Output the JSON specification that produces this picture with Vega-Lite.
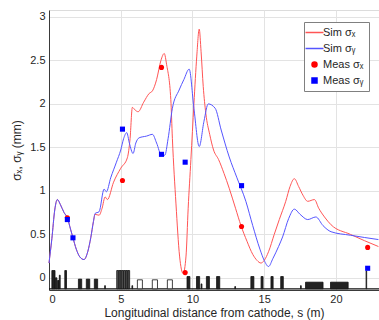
{
  "$schema": "https://vega.github.io/schema/vega-lite/v6.json",
  "width": 330,
  "height": 280,
  "autosize": {"type": "none"},
  "padding": {"left": 49, "top": 10, "right": 0, "bottom": 30},
  "background": "white",
  "config": {
    "font": "Liberation Sans",
    "view": {"stroke": "#dcdcdc"},
    "axis": {
      "gridColor": "#e3e3e3",
      "domainColor": "#3a3a3a",
      "labelColor": "#262626",
      "titleColor": "#262626",
      "labelFontSize": 11,
      "titleFontSize": 12,
      "titleFontWeight": "normal",
      "ticks": false
    }
  },
  "datasets": {
    "sim": [
      {"s": 0, "v": 0.17, "series": "Sim σₓ"}, {"s": 0.2, "v": 0.45, "series": "Sim σₓ"}, {"s": 0.4, "v": 0.78, "series": "Sim σₓ"}, {"s": 0.58, "v": 0.9, "series": "Sim σₓ"}, {"s": 0.8, "v": 0.84, "series": "Sim σₓ"}, {"s": 1.05, "v": 0.75, "series": "Sim σₓ"}, {"s": 1.28, "v": 0.69, "series": "Sim σₓ"}, {"s": 1.5, "v": 0.56, "series": "Sim σₓ"}, {"s": 1.67, "v": 0.46, "series": "Sim σₓ"}, {"s": 1.9, "v": 0.33, "series": "Sim σₓ"}, {"s": 2.15, "v": 0.24, "series": "Sim σₓ"}, {"s": 2.44, "v": 0.21, "series": "Sim σₓ"}, {"s": 2.7, "v": 0.3, "series": "Sim σₓ"}, {"s": 2.91, "v": 0.46, "series": "Sim σₓ"}, {"s": 3.1, "v": 0.65, "series": "Sim σₓ"}, {"s": 3.21, "v": 0.73, "series": "Sim σₓ"},
      {"s": 3.49, "v": 0.72, "series": "Sim σₓ"}, {"s": 3.7, "v": 0.8, "series": "Sim σₓ"}, {"s": 3.91, "v": 0.93, "series": "Sim σₓ"}, {"s": 4.07, "v": 0.9, "series": "Sim σₓ"}, {"s": 4.5, "v": 1.1, "series": "Sim σₓ"}, {"s": 5.0, "v": 1.26, "series": "Sim σₓ"}, {"s": 5.46, "v": 1.38, "series": "Sim σₓ"}, {"s": 5.65, "v": 1.6, "series": "Sim σₓ"}, {"s": 5.81, "v": 1.96, "series": "Sim σₓ"}, {"s": 6.0, "v": 1.93, "series": "Sim σₓ"}, {"s": 6.21, "v": 1.91, "series": "Sim σₓ"}, {"s": 6.6, "v": 2.02, "series": "Sim σₓ"}, {"s": 6.98, "v": 2.12, "series": "Sim σₓ"}, {"s": 7.21, "v": 2.15, "series": "Sim σₓ"}, {"s": 7.5, "v": 2.28, "series": "Sim σₓ"}, {"s": 7.8, "v": 2.5, "series": "Sim σₓ"}, {"s": 8.03, "v": 2.58, "series": "Sim σₓ"}, {"s": 8.2, "v": 2.45, "series": "Sim σₓ"}, {"s": 8.49, "v": 2.05, "series": "Sim σₓ"}, {"s": 8.6, "v": 1.6, "series": "Sim σₓ"}, {"s": 8.85, "v": 0.85, "series": "Sim σₓ"}, {"s": 9.1, "v": 0.25, "series": "Sim σₓ"}, {"s": 9.35, "v": 0.05, "series": "Sim σₓ"}, {"s": 9.55, "v": 0.25, "series": "Sim σₓ"}, {"s": 9.7, "v": 0.8, "series": "Sim σₓ"}, {"s": 9.89, "v": 1.36, "series": "Sim σₓ"}, {"s": 10.1, "v": 2.0, "series": "Sim σₓ"}, {"s": 10.3, "v": 2.55, "series": "Sim σₓ"}, {"s": 10.47, "v": 2.86, "series": "Sim σₓ"}, {"s": 10.6, "v": 2.6, "series": "Sim σₓ"}, {"s": 10.75, "v": 2.2, "series": "Sim σₓ"}, {"s": 10.93, "v": 1.89, "series": "Sim σₓ"}, {"s": 11.2, "v": 1.65, "series": "Sim σₓ"}, {"s": 11.47, "v": 1.47, "series": "Sim σₓ"}, {"s": 11.82, "v": 1.36, "series": "Sim σₓ"}, {"s": 12.2, "v": 1.2, "series": "Sim σₓ"}, {"s": 12.56, "v": 1.03, "series": "Sim σₓ"}, {"s": 13.0, "v": 0.8, "series": "Sim σₓ"}, {"s": 13.38, "v": 0.6, "series": "Sim σₓ"}, {"s": 13.8, "v": 0.42, "series": "Sim σₓ"}, {"s": 14.2, "v": 0.27, "series": "Sim σₓ"}, {"s": 14.5, "v": 0.2, "series": "Sim σₓ"}, {"s": 14.77, "v": 0.17, "series": "Sim σₓ"}, {"s": 15.0, "v": 0.2, "series": "Sim σₓ"}, {"s": 15.3, "v": 0.3, "series": "Sim σₓ"}, {"s": 15.7, "v": 0.5, "series": "Sim σₓ"}, {"s": 16.05, "v": 0.67, "series": "Sim σₓ"}, {"s": 16.5, "v": 0.88, "series": "Sim σₓ"}, {"s": 16.8, "v": 1.05, "series": "Sim σₓ"}, {"s": 17.1, "v": 1.14, "series": "Sim σₓ"}, {"s": 17.4, "v": 1.05, "series": "Sim σₓ"}, {"s": 17.7, "v": 0.95, "series": "Sim σₓ"}, {"s": 18.03, "v": 0.88, "series": "Sim σₓ"}, {"s": 18.5, "v": 0.9, "series": "Sim σₓ"}, {"s": 18.8, "v": 0.8, "series": "Sim σₓ"}, {"s": 19.2, "v": 0.7, "series": "Sim σₓ"}, {"s": 19.66, "v": 0.61, "series": "Sim σₓ"}, {"s": 21.0, "v": 0.5, "series": "Sim σₓ"}, {"s": 22.96, "v": 0.36, "series": "Sim σₓ"},
      {"s": 0, "v": 0.17, "series": "Sim σᵧ"}, {"s": 0.2, "v": 0.45, "series": "Sim σᵧ"}, {"s": 0.4, "v": 0.78, "series": "Sim σᵧ"}, {"s": 0.58, "v": 0.9, "series": "Sim σᵧ"}, {"s": 0.8, "v": 0.84, "series": "Sim σᵧ"}, {"s": 1.05, "v": 0.75, "series": "Sim σᵧ"}, {"s": 1.28, "v": 0.69, "series": "Sim σᵧ"}, {"s": 1.5, "v": 0.56, "series": "Sim σᵧ"}, {"s": 1.67, "v": 0.46, "series": "Sim σᵧ"}, {"s": 1.9, "v": 0.33, "series": "Sim σᵧ"}, {"s": 2.15, "v": 0.24, "series": "Sim σᵧ"}, {"s": 2.44, "v": 0.21, "series": "Sim σᵧ"}, {"s": 2.7, "v": 0.3, "series": "Sim σᵧ"}, {"s": 2.91, "v": 0.46, "series": "Sim σᵧ"}, {"s": 3.1, "v": 0.65, "series": "Sim σᵧ"}, {"s": 3.21, "v": 0.74, "series": "Sim σᵧ"},
      {"s": 3.49, "v": 0.76, "series": "Sim σᵧ"}, {"s": 3.84, "v": 1.02, "series": "Sim σᵧ"}, {"s": 4.0, "v": 0.99, "series": "Sim σᵧ"}, {"s": 4.3, "v": 1.15, "series": "Sim σᵧ"}, {"s": 4.7, "v": 1.33, "series": "Sim σᵧ"}, {"s": 5.0, "v": 1.47, "series": "Sim σᵧ"}, {"s": 5.2, "v": 1.6, "series": "Sim σᵧ"}, {"s": 5.42, "v": 1.67, "series": "Sim σᵧ"}, {"s": 5.6, "v": 1.55, "series": "Sim σᵧ"}, {"s": 5.86, "v": 1.43, "series": "Sim σᵧ"}, {"s": 6.05, "v": 1.55, "series": "Sim σᵧ"}, {"s": 6.28, "v": 1.61, "series": "Sim σᵧ"}, {"s": 6.8, "v": 1.63, "series": "Sim σᵧ"}, {"s": 7.21, "v": 1.65, "series": "Sim σᵧ"}, {"s": 7.5, "v": 1.55, "series": "Sim σᵧ"}, {"s": 7.84, "v": 1.41, "series": "Sim σᵧ"}, {"s": 8.07, "v": 1.41, "series": "Sim σᵧ"}, {"s": 8.3, "v": 1.6, "series": "Sim σᵧ"}, {"s": 8.6, "v": 1.95, "series": "Sim σᵧ"}, {"s": 9.07, "v": 2.16, "series": "Sim σᵧ"}, {"s": 9.4, "v": 2.28, "series": "Sim σᵧ"}, {"s": 9.77, "v": 2.4, "series": "Sim σᵧ"}, {"s": 10.1, "v": 1.95, "series": "Sim σᵧ"}, {"s": 10.47, "v": 1.51, "series": "Sim σᵧ"}, {"s": 10.8, "v": 1.8, "series": "Sim σᵧ"}, {"s": 11.1, "v": 2.0, "series": "Sim σᵧ"}, {"s": 11.58, "v": 1.95, "series": "Sim σᵧ"}, {"s": 12.0, "v": 1.7, "series": "Sim σᵧ"}, {"s": 12.56, "v": 1.39, "series": "Sim σᵧ"}, {"s": 13.1, "v": 1.15, "series": "Sim σᵧ"}, {"s": 13.72, "v": 0.88, "series": "Sim σᵧ"}, {"s": 14.2, "v": 0.6, "series": "Sim σᵧ"}, {"s": 14.7, "v": 0.33, "series": "Sim σᵧ"}, {"s": 15.0, "v": 0.2, "series": "Sim σᵧ"}, {"s": 15.3, "v": 0.13, "series": "Sim σᵧ"}, {"s": 15.6, "v": 0.22, "series": "Sim σᵧ"}, {"s": 16.0, "v": 0.36, "series": "Sim σᵧ"}, {"s": 16.28, "v": 0.47, "series": "Sim σᵧ"}, {"s": 16.7, "v": 0.68, "series": "Sim σᵧ"}, {"s": 17.1, "v": 0.79, "series": "Sim σᵧ"}, {"s": 17.5, "v": 0.73, "series": "Sim σᵧ"}, {"s": 18.03, "v": 0.67, "series": "Sim σᵧ"}, {"s": 18.6, "v": 0.7, "series": "Sim σᵧ"}, {"s": 19.1, "v": 0.6, "series": "Sim σᵧ"}, {"s": 19.66, "v": 0.53, "series": "Sim σᵧ"}, {"s": 21.0, "v": 0.49, "series": "Sim σᵧ"}, {"s": 22.96, "v": 0.44, "series": "Sim σᵧ"}
    ],
    "meas": [
      {"s": 1.28, "v": 0.69, "series": "Meas σₓ"}, {"s": 5.12, "v": 1.12, "series": "Meas σₓ"}, {"s": 7.84, "v": 2.42, "series": "Meas σₓ"}, {"s": 9.49, "v": 0.06, "series": "Meas σₓ"}, {"s": 13.42, "v": 0.59, "series": "Meas σₓ"}, {"s": 22.21, "v": 0.35, "series": "Meas σₓ"},
      {"s": 1.28, "v": 0.67, "series": "Meas σᵧ"}, {"s": 1.67, "v": 0.46, "series": "Meas σᵧ"}, {"s": 5.12, "v": 1.71, "series": "Meas σᵧ"}, {"s": 7.84, "v": 1.42, "series": "Meas σᵧ"}, {"s": 9.49, "v": 1.33, "series": "Meas σᵧ"}, {"s": 13.42, "v": 1.06, "series": "Meas σᵧ"}, {"s": 22.21, "v": 0.11, "series": "Meas σᵧ"}
    ],
    "elements": [
      {"s0": 0.2, "s1": 0.42, "top": 0.084, "kind": "solid"},
      {"s0": 0.45, "s1": 0.55, "top": 0.0, "kind": "solid"},
      {"s0": 0.6, "s1": 0.7, "top": -0.03, "kind": "solid"},
      {"s0": 0.72, "s1": 0.78, "top": 0.03, "kind": "solid"},
      {"s0": 1.1, "s1": 1.22, "top": 0.084, "kind": "solid"},
      {"s0": 2.05, "s1": 2.28, "top": -0.015, "kind": "solid"},
      {"s0": 2.6, "s1": 2.84, "top": -0.015, "kind": "solid"},
      {"s0": 3.16, "s1": 3.39, "top": -0.015, "kind": "solid"},
      {"s0": 3.88, "s1": 3.93, "top": -0.09, "kind": "solid"},
      {"s0": 4.72, "s1": 4.86, "top": 0.084, "kind": "striped"},
      {"s0": 4.88, "s1": 5.02, "top": 0.084, "kind": "striped"},
      {"s0": 5.04, "s1": 5.18, "top": 0.084, "kind": "striped"},
      {"s0": 5.2, "s1": 5.34, "top": 0.084, "kind": "striped"},
      {"s0": 5.36, "s1": 5.48, "top": 0.084, "kind": "striped"},
      {"s0": 5.5, "s1": 5.62, "top": 0.084, "kind": "striped"},
      {"s0": 5.78, "s1": 5.83, "top": -0.09, "kind": "solid"},
      {"s0": 6.16, "s1": 6.51, "top": -0.023, "kind": "open"},
      {"s0": 7.2, "s1": 7.56, "top": -0.023, "kind": "open"},
      {"s0": 8.25, "s1": 8.6, "top": -0.023, "kind": "open"},
      {"s0": 9.62, "s1": 9.82, "top": 0.015, "kind": "solid"},
      {"s0": 10.28, "s1": 10.5, "top": 0.015, "kind": "solid"},
      {"s0": 10.6, "s1": 10.66, "top": -0.07, "kind": "solid"},
      {"s0": 10.97, "s1": 11.18, "top": 0.015, "kind": "solid"},
      {"s0": 11.68, "s1": 11.9, "top": 0.015, "kind": "solid"},
      {"s0": 12.95, "s1": 13.0, "top": -0.1, "kind": "solid"},
      {"s0": 14.07, "s1": 14.28, "top": 0.015, "kind": "solid"},
      {"s0": 14.78, "s1": 14.92, "top": 0.015, "kind": "solid"},
      {"s0": 15.47, "s1": 15.62, "top": 0.015, "kind": "solid"},
      {"s0": 16.15, "s1": 16.33, "top": 0.015, "kind": "solid"},
      {"s0": 17.53, "s1": 17.58, "top": -0.09, "kind": "solid"},
      {"s0": 17.88, "s1": 19.1, "top": -0.05, "kind": "solid"},
      {"s0": 19.62, "s1": 20.85, "top": -0.05, "kind": "solid"},
      {"s0": 22.1, "s1": 22.14, "top": 0.08, "kind": "thin"}
    ],
    "base": [{"s0": 0, "s1": 23, "y": -0.126}]
  },
  "layer": [
    {
      "data": {"name": "sim"},
      "mark": {"type": "line", "strokeWidth": 1, "interpolate": "monotone"},
      "encoding": {
        "x": {"field": "s", "type": "quantitative", "scale": {"domain": [0, 23], "nice": false}, "axis": {"orient": "bottom", "values": [0, 5, 10, 15, 20], "title": "Longitudinal distance from cathode, s (m)", "labelPadding": 3, "titlePadding": 3}},
        "y": {"field": "v", "type": "quantitative", "scale": {"domain": [-0.14, 3.08], "nice": false, "zero": false}, "axis": {"orient": "left", "values": [0, 0.5, 1, 1.5, 2, 2.5, 3], "format": "~g", "title": "σₓ, σᵧ (mm)", "labelPadding": 4, "titlePadding": 6}},
        "color": {"field": "series", "type": "nominal", "title": null,
          "scale": {"domain": ["Sim σₓ", "Sim σᵧ", "Meas σₓ", "Meas σᵧ"], "range": ["#ff5555", "#5555ff", "#ff0000", "#0000ff"]},
          "legend": {
            "orient": "none", "legendX": 255, "legendY": 12,
            "title": null,
            "fillColor": "white", "strokeColor": "#808080", "padding": 5,
            "labelFontSize": 11, "labelColor": "#262626",
            "symbolSize": 324, "rowPadding": 4, "labelOffset": 3,
            "encode": {"symbols": {"update": {"size": {"signal": "datum.index < 2 ? 324 : 25"}}}}
          }
        }
      }
    },
    {
      "data": {"name": "base"},
      "mark": {"type": "rule", "color": "#111", "strokeWidth": 1.2},
      "encoding": {
        "x": {"field": "s0", "type": "quantitative"},
        "x2": {"field": "s1"},
        "y": {"field": "y", "type": "quantitative"}
      }
    },
    {
      "data": {"name": "elements"},
      "mark": {"type": "rect", "stroke": "#111", "strokeWidth": 0.8},
      "encoding": {
        "x": {"field": "s0", "type": "quantitative"},
        "x2": {"field": "s1"},
        "y": {"field": "top", "type": "quantitative"},
        "y2": {"datum": -0.126},
        "fill": {"field": "kind", "type": "nominal", "scale": {"domain": ["solid", "open", "thin", "striped"], "range": ["#222222", "#ffffff", "#777777", "#555555"]}, "legend": null}
      }
    },
    {
      "data": {"name": "meas"},
      "mark": {"type": "point", "filled": true, "opacity": 1, "size": 26},
      "encoding": {
        "x": {"field": "s", "type": "quantitative"},
        "y": {"field": "v", "type": "quantitative"},
        "color": {"field": "series", "type": "nominal", "title": null},
        "shape": {"field": "series", "type": "nominal", "title": null,
          "scale": {"domain": ["Sim σₓ", "Sim σᵧ", "Meas σₓ", "Meas σᵧ"], "range": ["stroke", "stroke", "circle", "square"]}}
      }
    }
  ]
}
